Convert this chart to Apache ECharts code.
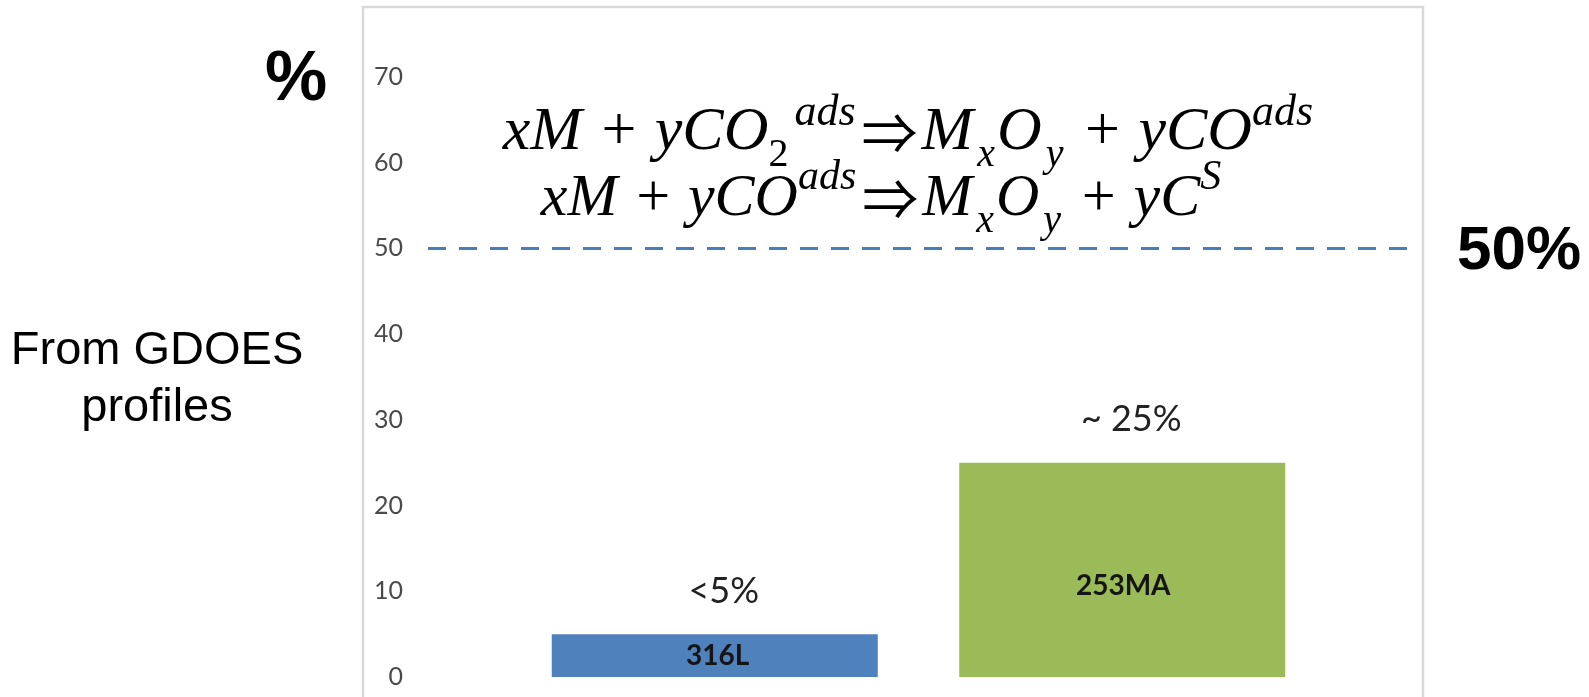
<!DOCTYPE html>
<html>
<head>
<meta charset="utf-8">
<script src="https://cdn.jsdelivr.net/npm/echarts@6/dist/echarts.min.js"></script>
<style>
html,body{margin:0;padding:0;background:#ffffff;}
#chart{width:1589px;height:697px;}
</style>
</head>
<body>
<div id="chart"></div>
<script>
// ---- data ----
const categories = ['316L', '253MA'];
const values = [5, 25];
const annotationTexts = ['<5%', '~ 25%'];
const annotationValues = [10, 30];
const thresholdValue = 50;
const yTickLabels = ['0', '10', '20', '30', '40', '50', '60', '70'];
const yMin = 0, yMax = 70, yInterval = 10;

// ---- styles (kept separate from data) ----
const barColors = ['#4F81BD', '#9BBB59'];
const barLabelOffsets = [[3, 0], [1, 16]];
const calibriLike = 'Lato, "Open Sans", sans-serif';
const serif = '"Liberation Serif", "Times New Roman", serif';
const sans = '"Liberation Sans", Arial, sans-serif';

const chart = echarts.init(document.getElementById('chart'), null, {renderer: 'canvas'});

const eqRich = {
  m:   {fontFamily: serif, fontStyle: 'italic', fontSize: 62, lineHeight: 84, verticalAlign: 'middle', color: '#000'},
  arr: {fontFamily: '"Noto Sans CJK SC", "DejaVu Sans", sans-serif', fontSize: 56, lineHeight: 84, verticalAlign: 'middle', color: '#000', padding: [0, 4, 0, 6]},
  sup: {fontFamily: serif, fontStyle: 'italic', fontSize: 44, lineHeight: 46, verticalAlign: 'top', color: '#000'},
  sub: {fontFamily: serif, fontStyle: 'italic', fontSize: 40, lineHeight: 36, verticalAlign: 'bottom', color: '#000', padding: [0, 2, 0, 4]},
  subr:{fontFamily: serif, fontSize: 40, lineHeight: 36, verticalAlign: 'bottom', color: '#000', padding: [0, 6, 0, 0]}
};
const eqRich2 = Object.assign({}, eqRich, {
  m:   Object.assign({}, eqRich.m, {fontSize: 60}),
  sup: Object.assign({}, eqRich.sup, {fontSize: 42, lineHeight: 52})
});

const option = {
  backgroundColor: '#ffffff',
  animation: false,
  grid: [
    {left: 511, width: 815, top: 77, height: 600, containLabel: false},
    {left: 428, width: 985, top: 77, height: 600, containLabel: false}
  ],
  xAxis: [
    {gridIndex: 0, type: 'category', data: categories, show: false},
    {gridIndex: 1, type: 'value', min: 0, max: 1, show: false}
  ],
  yAxis: [
    {
      gridIndex: 0, type: 'value', min: yMin, max: yMax, interval: yInterval,
      axisLine: {show: false}, axisTick: {show: false}, splitLine: {show: false},
      axisLabel: {
        margin: 108, fontSize: 25, color: '#4a4a4a', fontFamily: calibriLike,
        formatter: function (v) { return yTickLabels[Math.round((v - yMin) / yInterval)]; }
      }
    },
    {gridIndex: 1, type: 'value', min: yMin, max: yMax, show: false}
  ],
  series: [
    {
      type: 'bar',
      xAxisIndex: 0, yAxisIndex: 0,
      barWidth: '80%',
      data: values.map(function (v, i) {
        return {
          value: v,
          itemStyle: {color: barColors[i]},
          label: {offset: barLabelOffsets[i]}
        };
      }),
      label: {
        show: true, position: 'inside', formatter: '{b}',
        fontFamily: calibriLike, fontWeight: 'bold', fontSize: 28, color: '#151515'
      },
      markPoint: {
        symbol: 'rect', symbolSize: 1,
        itemStyle: {color: 'rgba(0,0,0,0)'},
        label: {
          show: true, position: 'inside', offset: [9, 0],
          fontFamily: calibriLike, fontSize: 36, color: '#222',
          formatter: function (p) { return p.name; }
        },
        data: annotationTexts.map(function (t, i) {
          return {name: t, coord: [categories[i], annotationValues[i]]};
        })
      }
    },
    {
      type: 'line',
      xAxisIndex: 1, yAxisIndex: 1,
      symbol: 'none',
      data: [[0, thresholdValue], [1, thresholdValue]],
      lineStyle: {color: '#4a7ebb', width: 3, type: [18, 13]},
      silent: true
    }
  ],
  graphic: [
    {type: 'rect', shape: {x: 363, y: 7, width: 1060, height: 700},
     style: {fill: 'none', stroke: '#d9d9d9', lineWidth: 2.5}, silent: true},
    {type: 'text', x: 296, y: 81,
     style: {text: '%', font: 'bold 70px ' + sans, fill: '#000', textAlign: 'center', textVerticalAlign: 'middle'}},
    {type: 'text', x: 157, y: 380,
     style: {text: 'From GDOES\nprofiles', font: '47px ' + sans, lineHeight: 57, fill: '#000', textAlign: 'center', textVerticalAlign: 'middle'}},
    {type: 'text', x: 1519, y: 252,
     style: {text: '50%', font: 'bold 62px ' + sans, fill: '#000', textAlign: 'center', textVerticalAlign: 'middle'}},
    {type: 'text', x: 908, y: 133,
     style: {
       text: '{m|xM + yCO}{subr|2}{sup|ads}{arr|⇒}{m|M}{sub|x}{m|O}{sub|y}{m| + yCO}{sup|ads}',
       rich: eqRich, textAlign: 'center', textVerticalAlign: 'middle'
     }},
    {type: 'text', x: 881, y: 199,
     style: {
       text: '{m|xM + yCO}{sup|ads}{arr|⇒}{m|M}{sub|x}{m|O}{sub|y}{m| + yC}{sup|S}',
       rich: eqRich2, textAlign: 'center', textVerticalAlign: 'middle'
     }}
  ]
};

chart.setOption(option);
</script>
</body>
</html>
